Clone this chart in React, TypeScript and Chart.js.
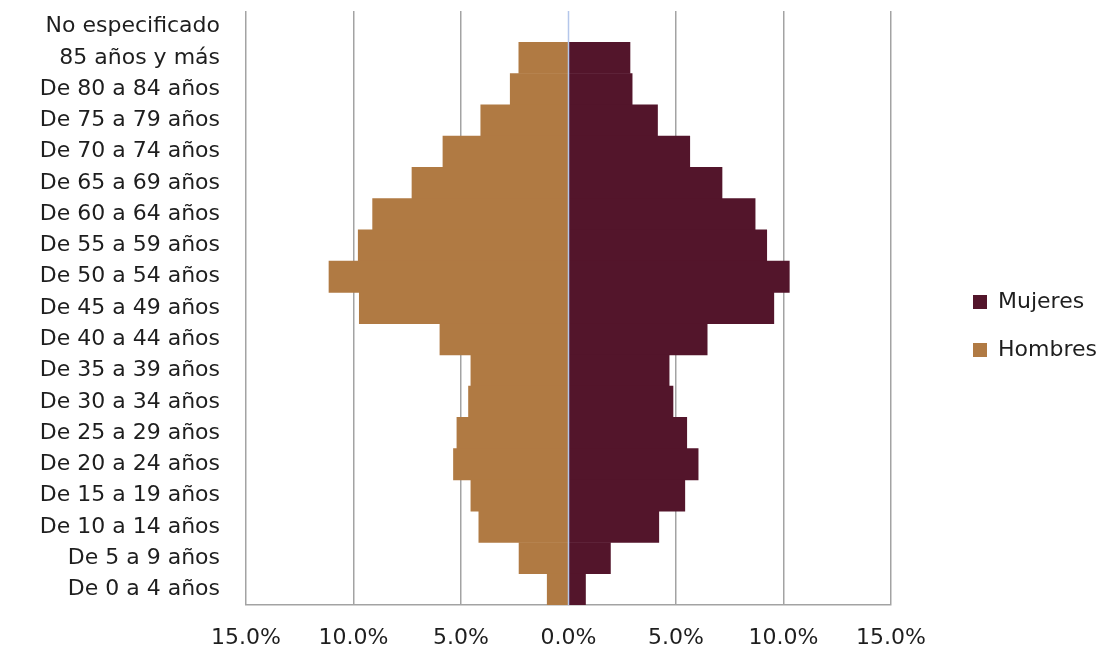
import { useEffect, useRef } from 'react';
import { Chart, registerables } from 'chart.js';

Chart.register(...registerables);

const FONT = '"DejaVu Sans", sans-serif';
const FONT_SIZE = 22;

const categories = [
  'No especificado',
  '85 años y más',
  'De 80 a 84 años',
  'De 75 a 79 años',
  'De 70 a 74 años',
  'De 65 a 69 años',
  'De 60 a 64 años',
  'De 55 a 59 años',
  'De 50 a 54 años',
  'De 45 a 49 años',
  'De 40 a 44 años',
  'De 35 a 39 años',
  'De 30 a 34 años',
  'De 25 a 29 años',
  'De 20 a 24 años',
  'De 15 a 19 años',
  'De 10 a 14 años',
  'De 5 a 9 años',
  'De 0 a 4 años',
];

const mujeres = [0, 2.86, 2.96, 4.14, 5.64, 7.14, 8.68, 9.22, 10.27, 9.55, 6.45, 4.68, 4.86, 5.5, 6.03, 5.41, 4.2, 1.95, 0.79];
const hombres = [0, 2.31, 2.71, 4.08, 5.84, 7.28, 9.11, 9.78, 11.14, 9.73, 5.98, 4.54, 4.65, 5.19, 5.35, 4.54, 4.17, 2.3, 0.99];

const xTicks = [-15, -10, -5, 0, 5, 10, 15];

const seriesNames = ['Mujeres', 'Hombres'];
const seriesColors = ['#53152B', '#B07A43'];

const zeroLine = {
  id: 'zeroLine',
  afterDatasetsDraw(chart: any) {
    const { ctx, chartArea, scales } = chart;
    const x = scales.x.getPixelForValue(0);
    ctx.save();
    ctx.strokeStyle = '#B4C6EA';
    ctx.lineWidth = 1.5;
    ctx.beginPath();
    ctx.moveTo(x, chartArea.top);
    ctx.lineTo(x, chartArea.bottom);
    ctx.stroke();
    ctx.restore();
  },
};

export default function App() {
  const ref = useRef<HTMLCanvasElement | null>(null);

  useEffect(() => {
    if (!ref.current) return;
    const mctx = document.createElement('canvas').getContext('2d') as CanvasRenderingContext2D;
    mctx.font = `${FONT_SIZE}px ${FONT}`;
    const tw = Math.max(...seriesNames.map((n) => mctx.measureText(n).width));
    const legendPad = 26;
    const legendW = legendPad + 14 + FONT_SIZE / 2 + tw + 10;
    const legendLeft = 947;
    const padRight = Math.max(0, 1120 - legendLeft - legendW);

    const chart = new Chart(ref.current, {
      type: 'bar',
      data: {
        labels: categories,
        datasets: [
          {
            label: seriesNames[0],
            data: mujeres,
            backgroundColor: seriesColors[0],
            borderWidth: 0,
            barPercentage: 1,
            categoryPercentage: 1,
            xAxisID: 'x',
            yAxisID: 'y',
          },
          {
            label: seriesNames[1],
            data: hombres.map((v) => -v),
            backgroundColor: seriesColors[1],
            borderWidth: 0,
            barPercentage: 1,
            categoryPercentage: 1,
            xAxisID: 'x',
            yAxisID: 'y',
          },
        ],
      },
      options: {
        indexAxis: 'y',
        animation: false,
        responsive: true,
        maintainAspectRatio: false,
        layout: { padding: { left: 0, top: 0, bottom: 0, right: padRight } },
        plugins: {
          tooltip: { enabled: false },
          legend: {
            position: 'right',
            align: 'center',
            labels: {
              boxWidth: 14,
              boxHeight: 14,
              padding: legendPad,
              color: '#1E1E1E',
              font: { family: FONT, size: FONT_SIZE },
            },
          },
        },
        scales: {
          x: {
            type: 'linear',
            position: 'bottom',
            stacked: true,
            min: -15,
            max: 15,
            afterBuildTicks: (scale: any) => {
              scale.ticks = xTicks.map((v) => ({ value: v }));
            },
            ticks: {
              padding: 20,
              color: '#1E1E1E',
              font: { family: FONT, size: FONT_SIZE },
              maxRotation: 0,
              callback: (v: any) => Math.abs(Number(v)).toFixed(1) + '%',
            },
            grid: {
              drawTicks: false,
              lineWidth: 1.5,
              color: (c: any) => (c.tick && c.tick.value === 0 ? 'rgba(0,0,0,0)' : '#A3A3A3'),
            },
            border: { display: true, color: '#A3A3A3', width: 1.5 },
            afterFit: (scale: any) => {
              scale.height = 47;
            },
          },
          y: {
            type: 'category',
            position: 'left',
            stacked: true,
            offset: true,
            ticks: {
              padding: 26,
              color: '#1E1E1E',
              font: { family: FONT, size: FONT_SIZE },
            },
            grid: { display: false, drawTicks: false },
            border: { display: false },
            afterFit: (scale: any) => {
              scale.width = 246;
              scale.paddingTop = 0;
              scale.paddingBottom = 0;
            },
          },
          x2: {
            type: 'linear',
            position: 'top',
            display: true,
            grid: { display: false, drawTicks: false },
            ticks: { display: false },
            border: { display: false },
            afterFit: (scale: any) => {
              scale.height = 11;
              scale.paddingLeft = 0;
              scale.paddingRight = 0;
            },
          },
          y2: {
            type: 'linear',
            position: 'right',
            display: true,
            grid: { display: false, drawTicks: false },
            ticks: { display: false },
            border: { display: false },
            afterFit: (scale: any) => {
              scale.width = legendLeft - 891;
              scale.paddingTop = 0;
              scale.paddingBottom = 0;
            },
          },
        },
      },
      plugins: [zeroLine],
    } as any);
    return () => chart.destroy();
  }, []);

  return (
    <div style={{ position: 'absolute', left: 0, top: 0, width: 1120, height: 652, background: '#fff' }}>
      <canvas ref={ref} />
    </div>
  );
}
